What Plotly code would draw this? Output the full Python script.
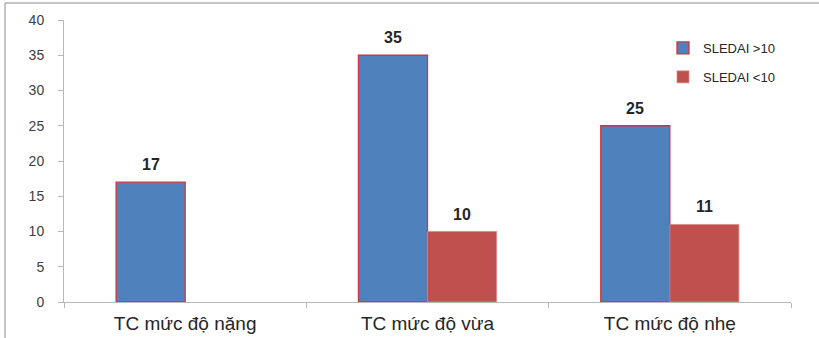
import plotly.graph_objects as go

categories = ["TC mức độ nặng", "TC mức độ vừa", "TC mức độ nhẹ"]
sledai_high = [17, 35, 25]
sledai_low = [None, 10, 11]
series_names = ["SLEDAI >10", "SLEDAI <10"]
y_ticks = [0, 5, 10, 15, 20, 25, 30, 35, 40]

BLUE = "#4F81BD"
RED = "#C0504D"
TEXT = "#262626"
AXIS = "#B8B8B8"
FONT = "Liberation Sans"

# plot area in pixels: x 64..791, y 20..302
L, R, T, B = 64, 28, 20, 36
W, H = 819 - L - R, 338 - T - B
BARGAP = 0.43
bar_px = (W / len(categories)) * (1 - BARGAP) / 2


def px_x(p):
    return (p - L) / W


def px_y(p):
    return (338 - B - p) / H


fig = go.Figure()
fig.add_trace(go.Bar(
    x=categories, y=sledai_high, name=series_names[0],
    marker=dict(color=BLUE, line=dict(color="#D0343F", width=1.3)),
    legendgroup="a",
))
fig.add_trace(go.Bar(
    x=categories, y=sledai_low, name=series_names[1],
    marker=dict(color=RED, line=dict(color="#D98A88", width=0.8)),
    legendgroup="b",
))

# value labels above each bar
annotations = []
for values, side in ((sledai_high, -1), (sledai_low, 1)):
    for cat, v in zip(categories, values):
        if v is None:
            continue
        annotations.append(dict(
            x=cat, y=v, xref="x", yref="y", text=f"<b>{v}</b>",
            showarrow=False, xanchor="center", yanchor="bottom",
            xshift=side * bar_px / 2, yshift=7,
            font=dict(size=16, color=TEXT, family=FONT),
        ))

fig.update_layout(
    width=819, height=338,
    margin=dict(l=L, r=R, t=T, b=B),
    paper_bgcolor="white", plot_bgcolor="white",
    barmode="group", bargap=BARGAP, bargroupgap=0,
    font=dict(family=FONT, color=TEXT),
    showlegend=True,
    legend=dict(
        x=px_x(663), y=px_y(33), xanchor="left", yanchor="top",
        font=dict(size=13, color=TEXT), bgcolor="rgba(0,0,0,0)",
        traceorder="grouped", tracegroupgap=9,
        itemwidth=30,
    ),
    xaxis=dict(
        showline=True, linecolor=AXIS, linewidth=1,
        ticks="outside", tickson="boundaries", ticklen=5, tickcolor=AXIS,
        tickfont=dict(size=19, color=TEXT), ticklabelstandoff=4,
        showgrid=False, zeroline=False, automargin=False,
    ),
    yaxis=dict(
        range=[0, 40], tickvals=y_ticks,
        showline=True, linecolor=AXIS, linewidth=1,
        ticks="outside", ticklen=5, tickcolor=AXIS,
        tickfont=dict(size=14, color="#404040"), ticklabelstandoff=11,
        showgrid=False, zeroline=False, automargin=False,
    ),
    annotations=annotations,
    shapes=[
        dict(type="line", xref="paper", yref="paper",
             x0=px_x(5), x1=px_x(5), y0=px_y(3), y1=px_y(340),
             line=dict(color="#8C8C8C", width=1)),
        dict(type="line", xref="paper", yref="paper",
             x0=px_x(5), x1=px_x(822), y0=px_y(3), y1=px_y(3),
             line=dict(color="#8C8C8C", width=1)),
    ],
)

fig.write_html("out.html")
